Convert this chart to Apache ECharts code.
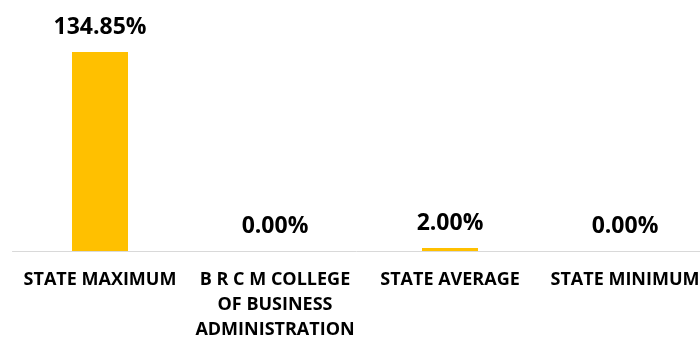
<!DOCTYPE html>
<html lang="en">
<head>
  <meta charset="UTF-8">
  <title>chart</title>
  <script src="https://cdn.jsdelivr.net/npm/echarts@6/dist/echarts.min.js"></script>
  <style>
    html, body { margin: 0; padding: 0; background: #fff; }
    #main { width: 700px; height: 340px; }
  </style>
</head>
<body>
  <div id="main"></div>
  <script>
    // 数据
    var categories = ['STATE MAXIMUM', 'B R C M COLLEGE\nOF BUSINESS\nADMINISTRATION', 'STATE AVERAGE', 'STATE MINIMUM'];
    var values = [134.85, 0.00, 2.00, 0.00];

    var myChart = echarts.init(document.getElementById('main'));

    var option = {
      animation: false,
      grid: {
        left: 12.5,
        width: 700,
        top: 15,
        bottom: 89,
        outerBoundsMode: 'none',
        containLabel: false
      },
      xAxis: {
        type: 'category',
        data: categories,
        axisLine: { lineStyle: { color: '#d9d9d9', width: 1 } },
        axisTick: { show: false },
        axisLabel: {
          interval: 0,
          margin: 16,
          color: '#000',
          fontFamily: 'Open Sans',
          fontWeight: 'bold',
          fontSize: 18,
          lineHeight: 25,
          align: 'center',
          hideOverlap: false
        }
      },
      yAxis: {
        type: 'value',
        min: 0,
        max: 160,
        show: false,
        splitLine: { show: false }
      },
      series: [{
        type: 'bar',
        data: values,
        barWidth: 56,
        itemStyle: { color: '#ffc000' },
        label: {
          show: true,
          position: 'top',
          distance: 13,
          color: '#000',
          fontFamily: 'Open Sans',
          fontWeight: 'bold',
          fontSize: 23,
          formatter: function (p) { return p.value.toFixed(2) + '%'; }
        }
      }]
    };
    myChart.setOption(option);
  </script>
</body>
</html>
